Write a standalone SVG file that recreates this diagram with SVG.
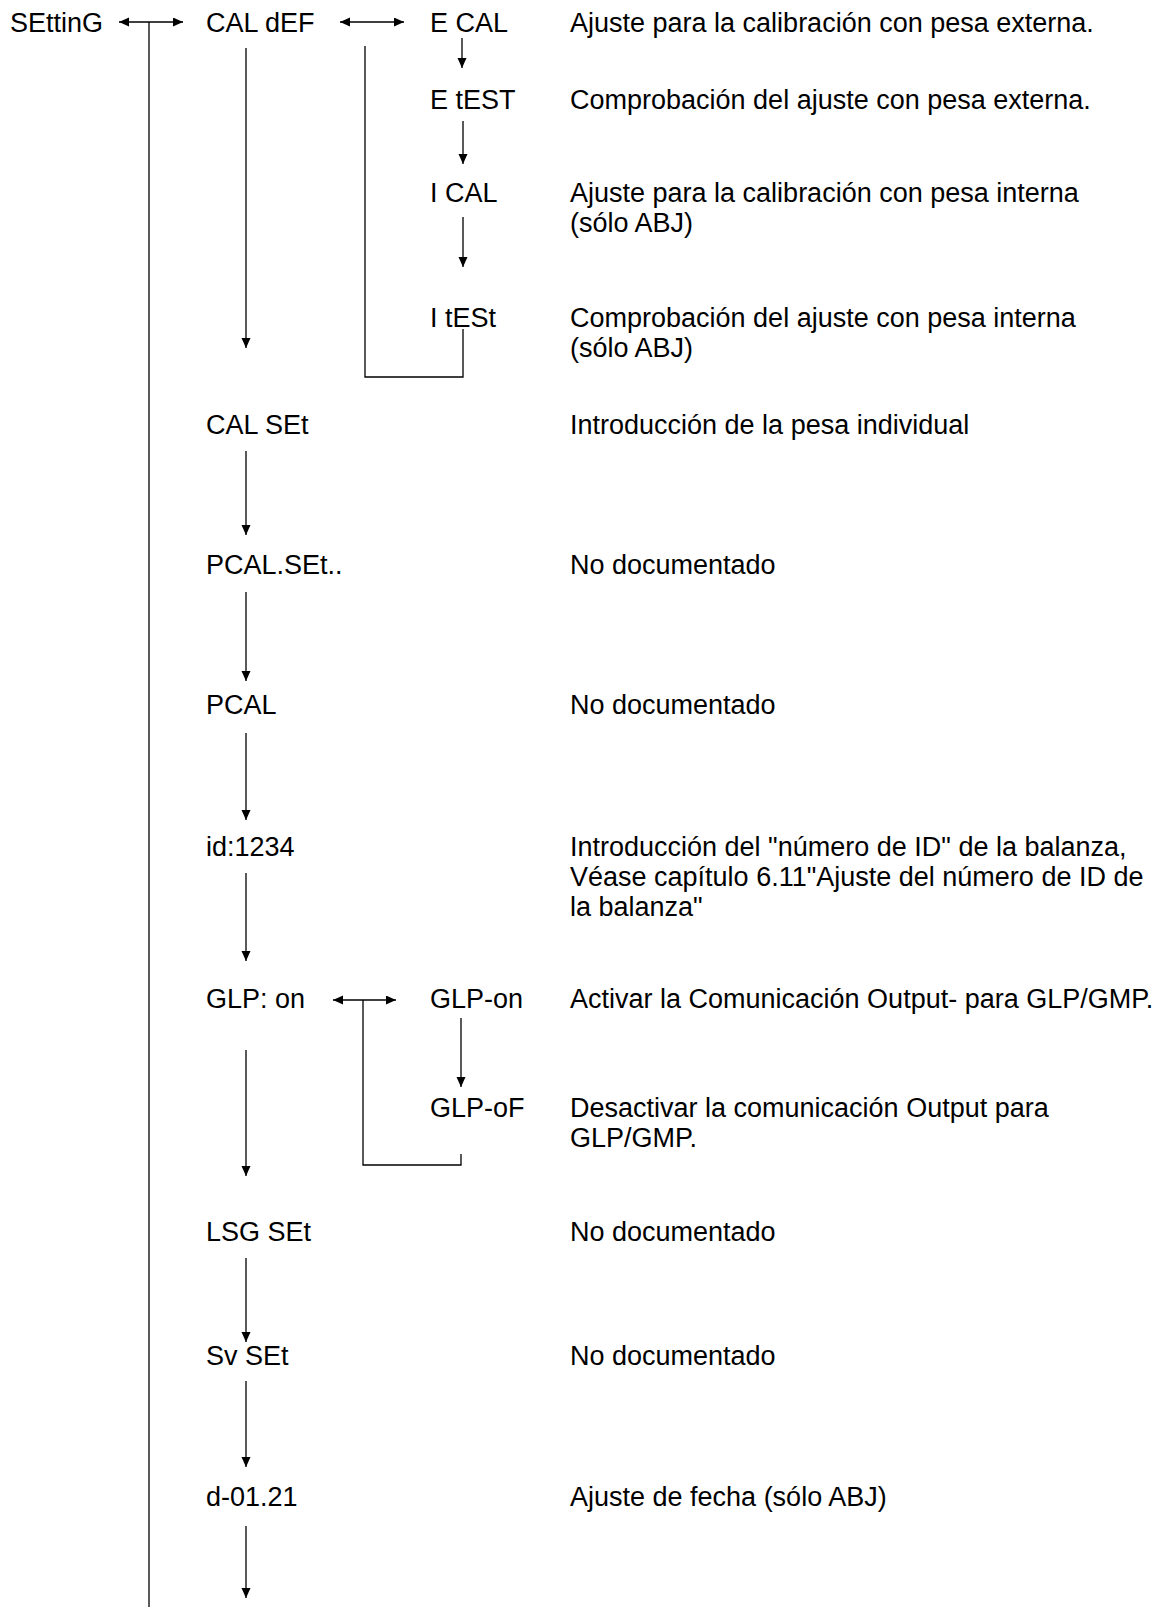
<svg xmlns="http://www.w3.org/2000/svg" width="1162" height="1607" viewBox="0 0 1162 1607">
<defs>
<marker id="ah" markerUnits="userSpaceOnUse" markerWidth="12" markerHeight="10" refX="10" refY="4.5" orient="auto-start-reverse">
<path d="M0,0 L10,4.5 L0,9 z" fill="#000"/>
</marker>
<style>
text{font-family:"Liberation Sans",Arial,sans-serif;font-size:27px;fill:#000}
.c{fill:none;stroke:#000;stroke-width:1.3}
.a{marker-end:url(#ah)}
.d{marker-start:url(#ah);marker-end:url(#ah)}
</style>
</defs>
<rect width="1162" height="1607" fill="#fff"/>
<g id="connectors">
<line class="c" x1="149" y1="22" x2="149" y2="1607"/>
<line class="c d" x1="119" y1="22" x2="183" y2="22"/>
<line class="c d" x1="340" y1="22" x2="404" y2="22"/>
<path class="c" d="M365,46 V377 H463 V329"/>
<line class="c a" x1="462" y1="38" x2="462" y2="68"/>
<line class="c a" x1="463" y1="121" x2="463" y2="164"/>
<line class="c a" x1="463" y1="217" x2="463" y2="267"/>
<line class="c a" x1="246" y1="48" x2="246" y2="348"/>
<line class="c a" x1="246" y1="451" x2="246" y2="535"/>
<line class="c a" x1="246" y1="592" x2="246" y2="681"/>
<line class="c a" x1="246" y1="733" x2="246" y2="820"/>
<line class="c a" x1="246" y1="873" x2="246" y2="961"/>
<line class="c d" x1="333" y1="1000" x2="396" y2="1000"/>
<path class="c" d="M363,1000 V1165 H461 V1154"/>
<line class="c a" x1="461" y1="1018" x2="461" y2="1087"/>
<line class="c a" x1="246" y1="1050" x2="246" y2="1176"/>
<line class="c a" x1="246" y1="1258" x2="246" y2="1342"/>
<line class="c a" x1="246" y1="1381" x2="246" y2="1467"/>
<line class="c a" x1="246" y1="1526" x2="246" y2="1598"/>
</g>
<g id="setting"><text x="10" y="32">SEttinG</text></g>
<g id="cal-def"><text x="206" y="32">CAL dEF</text></g>
<g id="e-cal"><text x="430" y="32">E CAL</text><text x="570" y="32">Ajuste para la calibración con pesa externa.</text></g>
<g id="e-test"><text x="430" y="109">E tEST</text><text x="570" y="109">Comprobación del ajuste con pesa externa.</text></g>
<g id="i-cal"><text x="430" y="202">I CAL</text><text x="570" y="202">Ajuste para la calibración con pesa interna</text><text x="570" y="232">(sólo ABJ)</text></g>
<g id="i-test"><text x="430" y="327">I tESt</text><text x="570" y="327">Comprobación del ajuste con pesa interna</text><text x="570" y="357">(sólo ABJ)</text></g>
<g id="cal-set"><text x="206" y="434">CAL SEt</text><text x="570" y="434">Introducción de la pesa individual</text></g>
<g id="pcal-set"><text x="206" y="574">PCAL.SEt..</text><text x="570" y="574">No documentado</text></g>
<g id="pcal"><text x="206" y="714">PCAL</text><text x="570" y="714">No documentado</text></g>
<g id="id"><text x="206" y="856">id:1234</text><text x="570" y="856">Introducción del "número de ID" de la balanza,</text><text x="570" y="886">Véase capítulo 6.11"Ajuste del número de ID de</text><text x="570" y="916">la balanza"</text></g>
<g id="glp-on-menu"><text x="206" y="1008">GLP: on</text></g>
<g id="glp-on"><text x="430" y="1008">GLP-on</text><text x="570" y="1008">Activar la Comunicación Output- para GLP/GMP.</text></g>
<g id="glp-of"><text x="430" y="1117">GLP-oF</text><text x="570" y="1117">Desactivar la comunicación Output para</text><text x="570" y="1147">GLP/GMP.</text></g>
<g id="lsg-set"><text x="206" y="1241">LSG SEt</text><text x="570" y="1241">No documentado</text></g>
<g id="sv-set"><text x="206" y="1365">Sv SEt</text><text x="570" y="1365">No documentado</text></g>
<g id="date"><text x="206" y="1506">d-01.21</text><text x="570" y="1506">Ajuste de fecha (sólo ABJ)</text></g>
</svg>
